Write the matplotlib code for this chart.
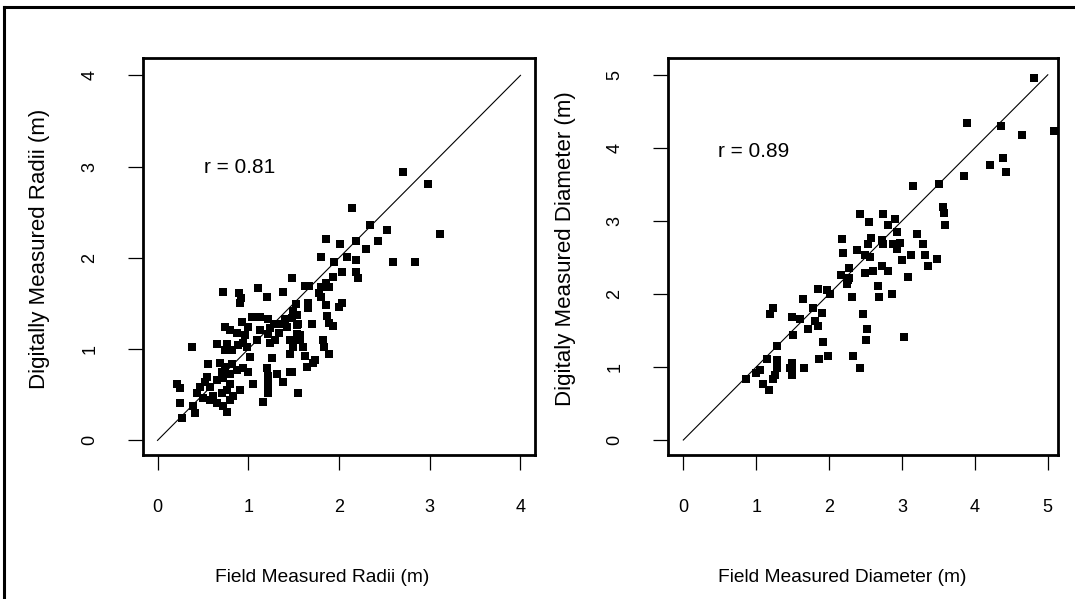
import matplotlib
matplotlib.use("Agg")
import matplotlib.pyplot as plt
from matplotlib.lines import Line2D

plt.rcParams['font.family'] = ['Liberation Sans', 'DejaVu Sans']

# ---------------- data ----------------
radii_field = [2.70, 2.98, 3.11, 2.14, 2.34, 2.53, 1.86, 2.01, 2.19, 2.43, 2.30, 1.80, 1.95, 2.09,
               2.19, 2.60, 2.84, 2.03, 2.19, 2.21, 1.93, 1.48, 1.86, 1.62, 1.67, 1.80, 1.89, 1.78,
               1.80, 1.53, 1.66, 1.86, 2.03, 2.00, 1.66, 1.49, 1.54, 1.48, 1.87, 1.89, 1.93, 1.70,
               1.54, 1.57, 1.48, 1.60, 1.82, 1.84, 1.89, 1.62, 1.71, 1.65, 1.48, 0.72, 0.90, 0.92,
               0.91, 1.11, 1.21, 1.38, 1.40, 1.35, 1.28, 1.22, 1.13, 1.04, 0.93, 1.00, 0.74, 0.80,
               0.88, 1.13, 1.24, 1.22, 1.34, 1.43, 1.55, 1.54, 1.46, 1.57, 1.49, 1.46, 1.73, 0.96,
               0.94, 0.89, 0.77, 0.66, 0.74, 0.82, 0.99, 1.10, 1.24, 1.29, 1.02, 1.26, 0.38, 0.56,
               0.69, 0.74, 0.82, 0.88, 0.94, 1.00, 0.80, 0.71, 1.21, 1.22, 1.32, 1.46, 1.05, 1.22,
               1.22, 1.22, 1.38, 1.55, 1.16, 0.55, 0.52, 0.47, 0.44, 0.58, 0.66, 0.72, 0.80, 0.77,
               0.71, 0.61, 0.58, 0.66, 0.72, 0.80, 0.83, 0.91, 0.77, 0.50, 0.39, 0.25, 0.21, 0.25,
               0.41, 0.27]
radii_digital = [2.94, 2.81, 2.26, 2.55, 2.36, 2.31, 2.21, 2.15, 2.19, 2.18, 2.10, 2.01, 1.96, 2.01,
                 1.98, 1.96, 1.95, 1.85, 1.84, 1.78, 1.79, 1.78, 1.72, 1.69, 1.69, 1.68, 1.68, 1.61,
                 1.57, 1.50, 1.51, 1.48, 1.51, 1.46, 1.45, 1.42, 1.37, 1.34, 1.36, 1.29, 1.25, 1.28,
                 1.26, 1.15, 1.10, 1.02, 1.10, 1.02, 0.95, 0.92, 0.85, 0.80, 0.75, 1.63, 1.62, 1.56,
                 1.51, 1.67, 1.57, 1.63, 1.33, 1.28, 1.28, 1.33, 1.35, 1.35, 1.30, 1.24, 1.24, 1.21,
                 1.18, 1.21, 1.23, 1.17, 1.18, 1.24, 1.27, 1.17, 1.10, 1.10, 1.02, 0.95, 0.88, 1.15,
                 1.07, 1.04, 1.06, 1.06, 0.99, 0.99, 1.02, 1.10, 1.07, 1.10, 0.91, 0.90, 1.02, 0.84,
                 0.85, 0.80, 0.84, 0.77, 0.79, 0.75, 0.73, 0.75, 0.79, 0.71, 0.73, 0.75, 0.62, 0.66,
                 0.58, 0.52, 0.64, 0.52, 0.42, 0.69, 0.64, 0.58, 0.52, 0.58, 0.66, 0.68, 0.62, 0.55,
                 0.52, 0.49, 0.44, 0.41, 0.38, 0.44, 0.49, 0.55, 0.31, 0.46, 0.38, 0.41, 0.62, 0.57,
                 0.30, 0.25]

diam_field = [4.81, 3.89, 4.36, 4.65, 5.08, 4.39, 4.21, 4.43, 3.85, 3.51, 3.15, 3.56, 3.58, 3.59,
              2.42, 2.55, 2.74, 2.81, 2.90, 2.93, 3.21, 2.58, 2.73, 2.74, 2.54, 2.88, 2.97, 2.93,
              3.29, 2.38, 2.49, 2.56, 3.13, 3.32, 3.48, 3.00, 2.18, 2.19, 3.36, 2.27, 2.73, 2.60,
              2.81, 2.49, 3.08, 2.16, 2.27, 2.25, 2.67, 2.31, 2.69, 2.86, 2.47, 2.52, 2.51, 3.03,
              2.33, 2.43, 1.85, 1.97, 2.01, 1.64, 1.23, 1.19, 1.49, 1.60, 1.78, 1.90, 1.81, 1.85,
              1.71, 1.51, 1.92, 1.29, 1.99, 1.86, 1.15, 1.29, 1.49, 1.65, 1.05, 1.29, 1.46, 1.26,
              1.49, 0.86, 1.23, 1.09, 1.18, 1.49, 1.00, 2.26]
diam_digital = [4.96, 4.34, 4.30, 4.18, 4.23, 3.86, 3.77, 3.67, 3.62, 3.51, 3.48, 3.19, 3.11, 2.95,
                3.10, 2.99, 3.10, 2.95, 3.03, 2.85, 2.82, 2.77, 2.74, 2.68, 2.68, 2.68, 2.70, 2.62,
                2.68, 2.60, 2.53, 2.51, 2.53, 2.53, 2.48, 2.46, 2.75, 2.56, 2.38, 2.36, 2.38, 2.32,
                2.32, 2.29, 2.23, 2.26, 2.22, 2.14, 2.11, 1.96, 1.96, 2.00, 1.73, 1.52, 1.37, 1.41,
                1.15, 0.99, 2.07, 2.05, 2.00, 1.93, 1.81, 1.73, 1.68, 1.66, 1.81, 1.74, 1.63, 1.56,
                1.52, 1.44, 1.34, 1.29, 1.15, 1.11, 1.11, 1.10, 1.05, 0.99, 0.96, 0.99, 0.99, 0.89,
                0.89, 0.84, 0.84, 0.77, 0.68, 0.96, 0.92, 2.19]

radii_ticks = [0, 1, 2, 3, 4]
diam_ticks = [0, 1, 2, 3, 4, 5]
radii_r = "r = 0.81"
diam_r = "r = 0.89"

# ---------------- figure ----------------
W, H = 1075, 599
fig = plt.figure(figsize=(W / 100, H / 100), dpi=100)
fig.patch.set_facecolor('white')

# outer frame (top and left edges visible)
fig.add_artist(Line2D([4 / W, 1.0], [1 - 7 / H, 1 - 7 / H], transform=fig.transFigure,
                      color='black', lw=2.2))
fig.add_artist(Line2D([4 / W, 4 / W], [0.0, 1 - 7 / H], transform=fig.transFigure,
                      color='black', lw=2.2))

def panel(rect, xs, ys, ticks, xlim, ylim, rtext, rpos, xlabel, ylabel, ylab_x, xlab_x, line_end):
    ax = fig.add_axes(rect)
    ax.scatter(xs, ys, marker='s', s=30, color='black', linewidths=0, zorder=3)
    ax.plot([0, line_end], [0, line_end], color='black', lw=0.8, zorder=2)
    ax.set_xlim(*xlim)
    ax.set_ylim(*ylim)
    ax.set_xticks(ticks)
    ax.set_yticks(ticks)
    ax.set_xticklabels([str(t) for t in ticks])
    ax.set_yticklabels([str(t) for t in ticks], rotation=90, va='center')
    ax.tick_params(direction='out', length=11, width=0.9, labelsize=13, pad=21, color='black')
    ax.tick_params(axis='y', pad=21)
    for s in ax.spines.values():
        s.set_linewidth(2.0)
        s.set_color('black')
    ax.text(rpos[0], rpos[1], rtext, fontsize=15, ha='left', va='center')
    ax.set_xlabel(xlabel, fontsize=13.8, labelpad=38)
    ax.xaxis.label.set_x(xlab_x)
    ax.set_ylabel(ylabel, fontsize=16)
    ax.yaxis.set_label_coords(ylab_x, 0.52)
    return ax

panel([143 / W, 1 - 455 / H, 392 / W, 397 / H], radii_field, radii_digital, radii_ticks,
      (-0.16, 4.16), (-0.16, 4.19), radii_r, (0.51, 2.99),
      "Field Measured Radii (m)", "Digitally Measured Radii (m)", -0.237, 0.457, 4)

panel([668 / W, 1 - 455 / H, 390 / W, 397 / H], diam_field, diam_digital, diam_ticks,
      (-0.21, 5.14), (-0.205, 5.23), diam_r, (0.47, 3.95),
      "Field Measured Diameter (m)", "Digitaly Measured Diameter (m)", -0.236, 0.446, 5)

fig.savefig("out.png", dpi=100, facecolor='white')
